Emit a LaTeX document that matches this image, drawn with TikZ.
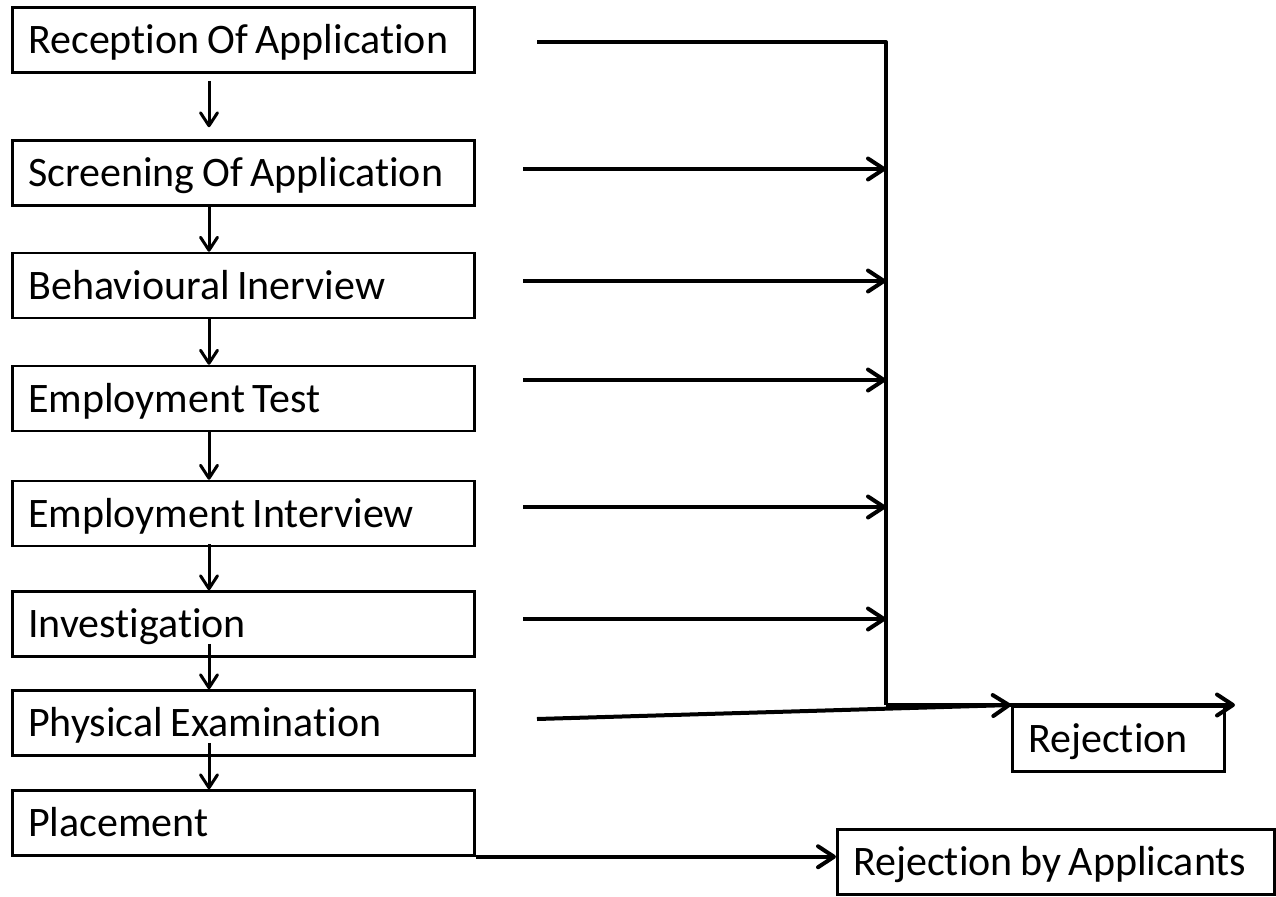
\documentclass[tikz,border=0pt]{standalone}
\usepackage{fontspec}
\setmainfont{Carlito}[Ligatures=NoCommon]
\usepackage{tikz}
\usetikzlibrary{arrows.meta}
\usetikzlibrary{calc}
\newcommand{\stagefont}{\fontsize{21}{24}\selectfont\hyphenpenalty=10000\relax}
\tikzset{>={Straight Barb[length=8pt,width=10.5pt,round]}}
\tikzset{
    stage/.style={draw, line width=1.25pt, anchor=west, text width=215pt, inner xsep=8pt,
        minimum height=32.5pt, align=left, text height=13.5pt, text depth=0pt,
        font=\stagefont, execute at begin node={\spaceskip=0.18em\relax}},
    outcome/.style={stage, anchor=north west},
    link/.style={->, line width=1.5pt, >={Straight Barb[length=6.5pt,width=8.5pt,round]}},
    reject/.style={->, line width=2pt}
}

\begin{document}
\begin{tikzpicture}[x=0.5pt, y=-0.5pt]
    \useasboundingbox (0,0) rectangle (1276,896);

    \node[stage] at (11,40) (rec) {Reception Of Application};
    \node[stage] at (11,173) (scr) {Screening Of Application};
    \node[stage] at (11,285.5) (beh) {Behavioural Inerview};
    \node[stage] at (11,398.5) (tst) {Employment Test};
    \node[stage] at (11,513.5) (int) {Employment Interview};
    \node[stage] at (11,624) (inv) {Investigation};
    \node[stage] at (11,723) (phy) {Physical Examination};
    \node[stage] at (11,823) (plc) {Placement};

    \node[outcome, text width=90pt] at (1011,705) (rej) {Rejection};
    \node[outcome, text width=202.5pt] at (836,828) (rba) {Rejection by Applicants};

    % down the stages
    \coordinate (col) at (209,0);
    \draw[link] ($(rec.south -| col)+(0,7)$) -- ($(scr.north -| col)+(0,-12)$);
    \draw[link] (scr.south -| col) -- (beh.north -| col);
    \draw[link] (beh.south -| col) -- (tst.north -| col);
    \draw[link] (tst.south -| col) -- (int.north -| col);
    \draw[link] ($(int.south -| col)+(0,-3)$) -- (inv.north -| col);
    \draw[link] ($(inv.south -| col)+(0,-14)$) -- (phy.north -| col);
    \draw[link] ($(phy.south -| col)+(0,-14)$) -- (plc.north -| col);

    % rejection rail
    \coordinate (s1) at (537,42);
    \coordinate (top) at (886,42);
    \coordinate (bot) at (886,705);
    \coordinate (rend) at (1235,705);
    \draw[line width=2pt, line join=round] (s1) -- (top) -- (bot);
    \foreach \y/\n in {169/2, 281/3, 380/4, 507/5, 619/6} {
        \coordinate (s\n) at (523,\y);
        \draw[reject] (s\n) -- (s\n -| bot);
    }
    \coordinate (s7) at (537,719);
    \draw[reject] (s7) -- (rej.north west);
    \draw[reject] (bot) -- (rend);

    \draw[reject] (plc.south east) -- (plc.south east -| rba.west);
\end{tikzpicture}
\end{document}
